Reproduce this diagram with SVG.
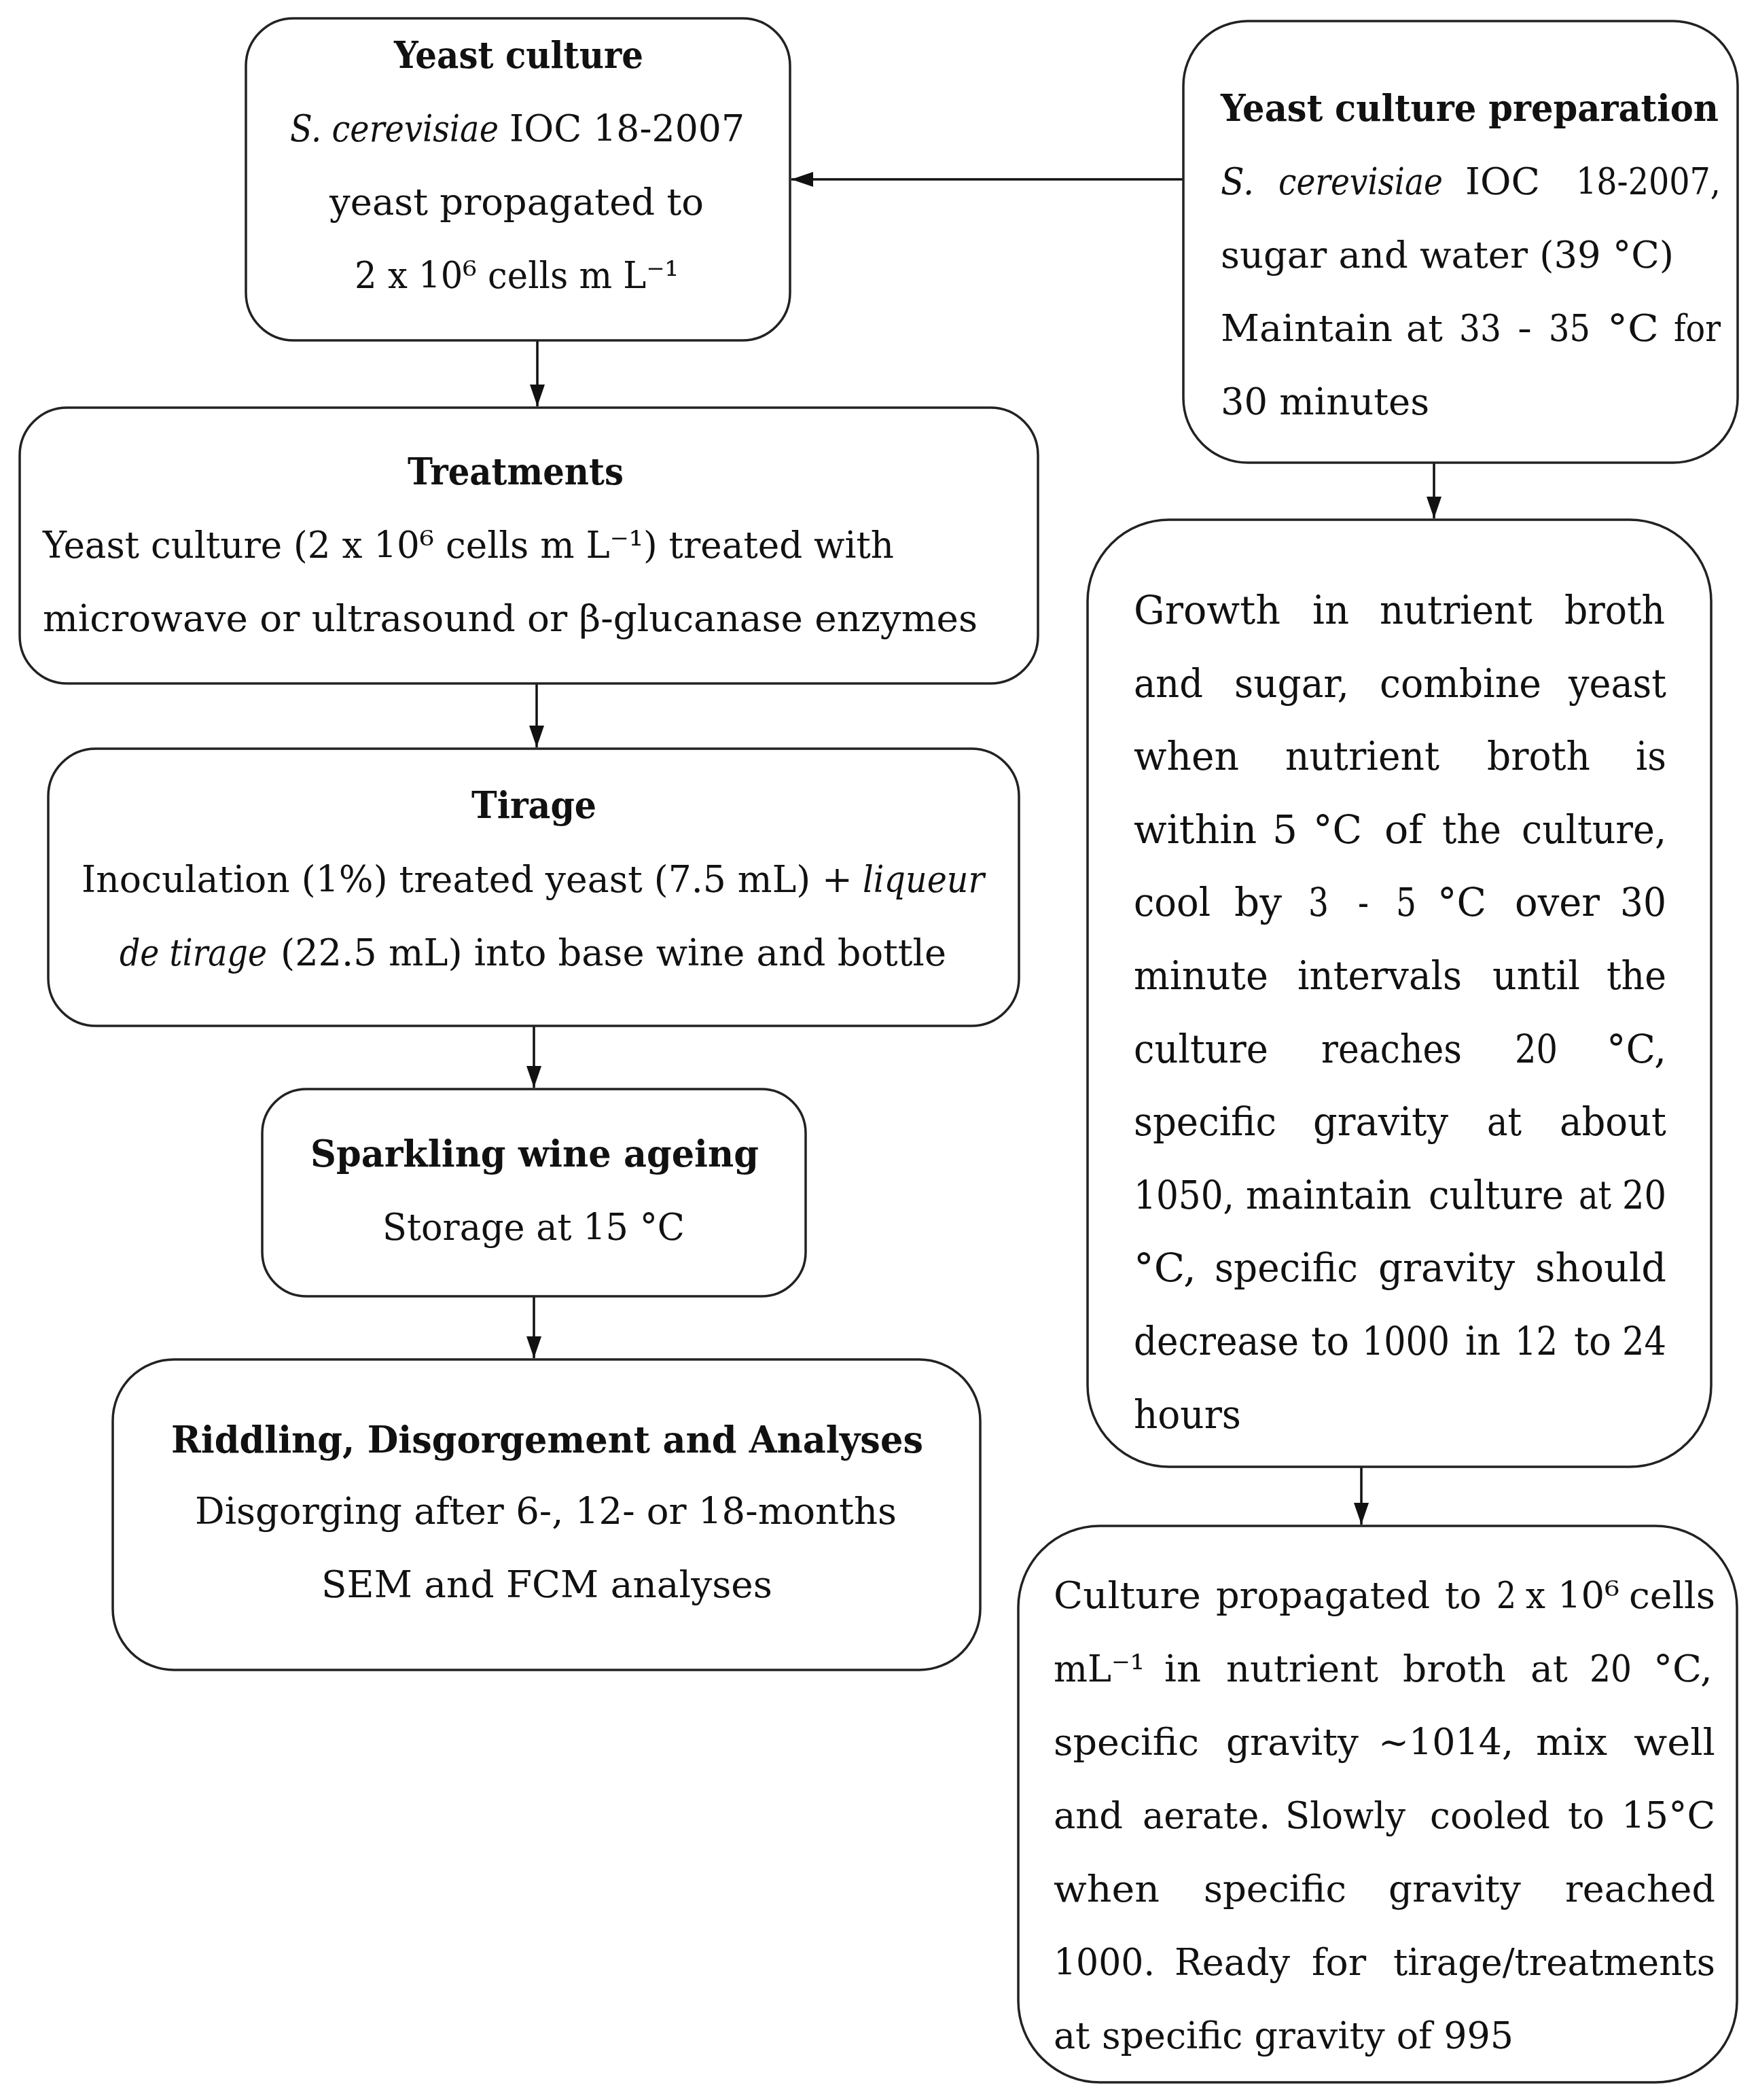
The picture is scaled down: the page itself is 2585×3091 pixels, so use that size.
<svg xmlns="http://www.w3.org/2000/svg" width="2585" height="3091" viewBox="0 0 2585 3091">
<style>
  .box { fill: #ffffff; stroke: #222222; stroke-width: 3.5; }
  .t { font-family: "DejaVu Serif", "Liberation Serif", serif; font-size: 55px; fill: #111111; }
  .g { font-size: 57px; }
  .b { font-weight: bold; }
  .i { font-style: italic; }
  .conn { stroke: #111111; stroke-width: 3.5; fill: none; marker-end: url(#ah); }
</style>
<defs>
  <marker id="ah" markerUnits="userSpaceOnUse" markerWidth="34" markerHeight="22" refX="32" refY="11" orient="auto">
    <path d="M0,0 L32,11 L0,22 z" fill="#111111"/>
  </marker>
</defs>
<rect x="0" y="0" width="2585" height="3091" fill="#ffffff"/>

<g id="connectors">
  <line class="conn" x1="1742" y1="264" x2="1165" y2="264"/>
  <line class="conn" x1="791" y1="501" x2="791" y2="598"/>
  <line class="conn" x1="790" y1="1006" x2="790" y2="1100"/>
  <line class="conn" x1="786" y1="1510" x2="786" y2="1601"/>
  <line class="conn" x1="786" y1="1908" x2="786" y2="1999"/>
  <line class="conn" x1="2111" y1="681" x2="2111" y2="763"/>
  <line class="conn" x1="2004" y1="2159" x2="2004" y2="2244"/>
</g>

<g id="node-yeast-culture">
  <rect class="box" x="362" y="27" width="801" height="474" rx="70" ry="70"/>
  <text class="t b" x="580" y="100" textLength="367" lengthAdjust="spacingAndGlyphs">Yeast culture</text>
  <text class="t i" x="427" y="208" textLength="307" lengthAdjust="spacingAndGlyphs">S. cerevisiae</text>
  <text class="t" x="750" y="208" textLength="346" lengthAdjust="spacingAndGlyphs">IOC 18-2007</text>
  <text class="t" x="485" y="316" textLength="551" lengthAdjust="spacingAndGlyphs">yeast propagated to</text>
  <text class="t" x="522" y="424" textLength="477" lengthAdjust="spacingAndGlyphs">2 x 10⁶ cells m L⁻¹</text>
</g>

<g id="node-treatments">
  <rect class="box" x="29" y="600" width="1499" height="406" rx="70" ry="70"/>
  <text class="t b" x="600" y="713" textLength="318" lengthAdjust="spacingAndGlyphs">Treatments</text>
  <text class="t" x="63" y="821" textLength="1253" lengthAdjust="spacingAndGlyphs">Yeast culture (2 x 10⁶ cells m L⁻¹) treated with</text>
  <text class="t" x="63" y="929" textLength="1376" lengthAdjust="spacingAndGlyphs">microwave or ultrasound or β-glucanase enzymes</text>
</g>

<g id="node-tirage">
  <rect class="box" x="71" y="1102" width="1429" height="408" rx="70" ry="70"/>
  <text class="t b" x="694" y="1204" textLength="184" lengthAdjust="spacingAndGlyphs">Tirage</text>
  <text class="t" x="120" y="1313" textLength="1135" lengthAdjust="spacingAndGlyphs">Inoculation (1%) treated yeast (7.5 mL) +</text>
  <text class="t i" x="1270" y="1313" textLength="179" lengthAdjust="spacingAndGlyphs">liqueur</text>
  <text class="t i" x="176" y="1421" textLength="217" lengthAdjust="spacingAndGlyphs">de tirage</text>
  <text class="t" x="413" y="1421" textLength="980" lengthAdjust="spacingAndGlyphs">(22.5 mL) into base wine and bottle</text>
</g>

<g id="node-ageing">
  <rect class="box" x="386" y="1603" width="800" height="305" rx="65" ry="65"/>
  <text class="t b" x="457" y="1717" textLength="660" lengthAdjust="spacingAndGlyphs">Sparkling wine ageing</text>
  <text class="t" x="563" y="1825" textLength="445" lengthAdjust="spacingAndGlyphs">Storage at 15 °C</text>
</g>

<g id="node-riddling">
  <rect class="box" x="166" y="2001" width="1277" height="457" rx="90" ry="90"/>
  <text class="t b" x="252" y="2138" textLength="1107" lengthAdjust="spacingAndGlyphs">Riddling, Disgorgement and Analyses</text>
  <text class="t" x="287" y="2243" textLength="1033" lengthAdjust="spacingAndGlyphs">Disgorging after 6-, 12- or 18-months</text>
  <text class="t" x="473" y="2351" textLength="664" lengthAdjust="spacingAndGlyphs">SEM and FCM analyses</text>
</g>

<g id="node-preparation">
  <rect class="box" x="1742" y="31" width="816" height="650" rx="95" ry="95"/>
  <text class="t b" x="1797" y="178" textLength="733" lengthAdjust="spacingAndGlyphs">Yeast culture preparation</text>
  <text class="t i" x="1797" y="286" textLength="49" lengthAdjust="spacingAndGlyphs">S.</text>
  <text class="t i" x="1882" y="286" textLength="242" lengthAdjust="spacingAndGlyphs">cerevisiae</text>
  <text class="t" x="2157" y="286" textLength="110" lengthAdjust="spacingAndGlyphs">IOC</text>
  <text class="t" x="2320" y="286" textLength="213" lengthAdjust="spacingAndGlyphs">18-2007,</text>
  <text class="t" x="1797" y="394" textLength="667" lengthAdjust="spacingAndGlyphs">sugar and water (39 °C)</text>
  <text class="t" x="1797" y="502" textLength="253" lengthAdjust="spacingAndGlyphs">Maintain</text>
  <text class="t" x="2070" y="502" textLength="54" lengthAdjust="spacingAndGlyphs">at</text>
  <text class="t" x="2148" y="502" textLength="62" lengthAdjust="spacingAndGlyphs">33</text>
  <text class="t" x="2234" y="502" textLength="21" lengthAdjust="spacingAndGlyphs">-</text>
  <text class="t" x="2280" y="502" textLength="61" lengthAdjust="spacingAndGlyphs">35</text>
  <text class="t" x="2366" y="502" textLength="76" lengthAdjust="spacingAndGlyphs">°C</text>
  <text class="t" x="2464" y="502" textLength="69" lengthAdjust="spacingAndGlyphs">for</text>
  <text class="t" x="1797" y="610" textLength="307" lengthAdjust="spacingAndGlyphs">30 minutes</text>
</g>

<g id="node-growth">
  <rect class="box" x="1601" y="765" width="918" height="1394" rx="120" ry="120"/>
  <text class="t g" x="1669" y="918" textLength="216" lengthAdjust="spacingAndGlyphs">Growth</text>
  <text class="t g" x="1932" y="918" textLength="54" lengthAdjust="spacingAndGlyphs">in</text>
  <text class="t g" x="2031" y="918" textLength="225" lengthAdjust="spacingAndGlyphs">nutrient</text>
  <text class="t g" x="2303" y="918" textLength="148" lengthAdjust="spacingAndGlyphs">broth</text>

  <text class="t g" x="1669" y="1026" textLength="102" lengthAdjust="spacingAndGlyphs">and</text>
  <text class="t g" x="1817" y="1026" textLength="169" lengthAdjust="spacingAndGlyphs">sugar,</text>
  <text class="t g" x="2031" y="1026" textLength="238" lengthAdjust="spacingAndGlyphs">combine</text>
  <text class="t g" x="2309" y="1026" textLength="144" lengthAdjust="spacingAndGlyphs">yeast</text>

  <text class="t g" x="1669" y="1133" textLength="155" lengthAdjust="spacingAndGlyphs">when</text>
  <text class="t g" x="1892" y="1133" textLength="227" lengthAdjust="spacingAndGlyphs">nutrient</text>
  <text class="t g" x="2189" y="1133" textLength="152" lengthAdjust="spacingAndGlyphs">broth</text>
  <text class="t g" x="2408" y="1133" textLength="45" lengthAdjust="spacingAndGlyphs">is</text>

  <text class="t g" x="1669" y="1241" textLength="181" lengthAdjust="spacingAndGlyphs">within</text>
  <text class="t g" x="1873" y="1241" textLength="37" lengthAdjust="spacingAndGlyphs">5</text>
  <text class="t g" x="1933" y="1241" textLength="72" lengthAdjust="spacingAndGlyphs">°C</text>
  <text class="t g" x="2038" y="1241" textLength="57" lengthAdjust="spacingAndGlyphs">of</text>
  <text class="t g" x="2123" y="1241" textLength="87" lengthAdjust="spacingAndGlyphs">the</text>
  <text class="t g" x="2240" y="1241" textLength="213" lengthAdjust="spacingAndGlyphs">culture,</text>

  <text class="t g" x="1669" y="1348" textLength="113" lengthAdjust="spacingAndGlyphs">cool</text>
  <text class="t g" x="1817" y="1348" textLength="70" lengthAdjust="spacingAndGlyphs">by</text>
  <text class="t g" x="1926" y="1348" textLength="30" lengthAdjust="spacingAndGlyphs">3</text>
  <text class="t g" x="1999" y="1348" textLength="16" lengthAdjust="spacingAndGlyphs">-</text>
  <text class="t g" x="2055" y="1348" textLength="30" lengthAdjust="spacingAndGlyphs">5</text>
  <text class="t g" x="2116" y="1348" textLength="72" lengthAdjust="spacingAndGlyphs">°C</text>
  <text class="t g" x="2230" y="1348" textLength="125" lengthAdjust="spacingAndGlyphs">over</text>
  <text class="t g" x="2385" y="1348" textLength="68" lengthAdjust="spacingAndGlyphs">30</text>

  <text class="t g" x="1669" y="1456" textLength="198" lengthAdjust="spacingAndGlyphs">minute</text>
  <text class="t g" x="1910" y="1456" textLength="242" lengthAdjust="spacingAndGlyphs">intervals</text>
  <text class="t g" x="2197" y="1456" textLength="129" lengthAdjust="spacingAndGlyphs">until</text>
  <text class="t g" x="2365" y="1456" textLength="88" lengthAdjust="spacingAndGlyphs">the</text>

  <text class="t g" x="1669" y="1564" textLength="198" lengthAdjust="spacingAndGlyphs">culture</text>
  <text class="t g" x="1945" y="1564" textLength="207" lengthAdjust="spacingAndGlyphs">reaches</text>
  <text class="t g" x="2230" y="1564" textLength="63" lengthAdjust="spacingAndGlyphs">20</text>
  <text class="t g" x="2365" y="1564" textLength="88" lengthAdjust="spacingAndGlyphs">°C,</text>

  <text class="t g" x="1669" y="1671" textLength="210" lengthAdjust="spacingAndGlyphs">specific</text>
  <text class="t g" x="1933" y="1671" textLength="199" lengthAdjust="spacingAndGlyphs">gravity</text>
  <text class="t g" x="2189" y="1671" textLength="51" lengthAdjust="spacingAndGlyphs">at</text>
  <text class="t g" x="2296" y="1671" textLength="157" lengthAdjust="spacingAndGlyphs">about</text>

  <text class="t g" x="1669" y="1779" textLength="148" lengthAdjust="spacingAndGlyphs">1050,</text>
  <text class="t g" x="1834" y="1779" textLength="244" lengthAdjust="spacingAndGlyphs">maintain</text>
  <text class="t g" x="2103" y="1779" textLength="199" lengthAdjust="spacingAndGlyphs">culture</text>
  <text class="t g" x="2324" y="1779" textLength="48" lengthAdjust="spacingAndGlyphs">at</text>
  <text class="t g" x="2388" y="1779" textLength="65" lengthAdjust="spacingAndGlyphs">20</text>

  <text class="t g" x="1669" y="1886" textLength="92" lengthAdjust="spacingAndGlyphs">°C,</text>
  <text class="t g" x="1788" y="1886" textLength="211" lengthAdjust="spacingAndGlyphs">specific</text>
  <text class="t g" x="2029" y="1886" textLength="201" lengthAdjust="spacingAndGlyphs">gravity</text>
  <text class="t g" x="2260" y="1886" textLength="193" lengthAdjust="spacingAndGlyphs">should</text>

  <text class="t g" x="1669" y="1994" textLength="243" lengthAdjust="spacingAndGlyphs">decrease</text>
  <text class="t g" x="1930" y="1994" textLength="56" lengthAdjust="spacingAndGlyphs">to</text>
  <text class="t g" x="2005" y="1994" textLength="129" lengthAdjust="spacingAndGlyphs">1000</text>
  <text class="t g" x="2157" y="1994" textLength="52" lengthAdjust="spacingAndGlyphs">in</text>
  <text class="t g" x="2230" y="1994" textLength="63" lengthAdjust="spacingAndGlyphs">12</text>
  <text class="t g" x="2317" y="1994" textLength="55" lengthAdjust="spacingAndGlyphs">to</text>
  <text class="t g" x="2388" y="1994" textLength="65" lengthAdjust="spacingAndGlyphs">24</text>

  <text class="t g" x="1669" y="2102" textLength="158" lengthAdjust="spacingAndGlyphs">hours</text>
</g>

<g id="node-propagated">
  <rect class="box" x="1499" y="2246" width="1058" height="819" rx="120" ry="120"/>
  <text class="t" x="1551" y="2367" textLength="217" lengthAdjust="spacingAndGlyphs">Culture</text>
  <text class="t" x="1790" y="2367" textLength="315" lengthAdjust="spacingAndGlyphs">propagated</text>
  <text class="t" x="2127" y="2367" textLength="54" lengthAdjust="spacingAndGlyphs">to</text>
  <text class="t" x="2203" y="2367" textLength="29" lengthAdjust="spacingAndGlyphs">2</text>
  <text class="t" x="2246" y="2367" textLength="29" lengthAdjust="spacingAndGlyphs">x</text>
  <text class="t" x="2293" y="2367" textLength="91" lengthAdjust="spacingAndGlyphs">10⁶</text>
  <text class="t" x="2398" y="2367" textLength="127" lengthAdjust="spacingAndGlyphs">cells</text>

  <text class="t" x="1551" y="2475" textLength="134" lengthAdjust="spacingAndGlyphs">mL⁻¹</text>
  <text class="t" x="1714" y="2475" textLength="54" lengthAdjust="spacingAndGlyphs">in</text>
  <text class="t" x="1805" y="2475" textLength="224" lengthAdjust="spacingAndGlyphs">nutrient</text>
  <text class="t" x="2065" y="2475" textLength="152" lengthAdjust="spacingAndGlyphs">broth</text>
  <text class="t" x="2253" y="2475" textLength="55" lengthAdjust="spacingAndGlyphs">at</text>
  <text class="t" x="2340" y="2475" textLength="62" lengthAdjust="spacingAndGlyphs">20</text>
  <text class="t" x="2434" y="2475" textLength="87" lengthAdjust="spacingAndGlyphs">°C,</text>

  <text class="t" x="1551" y="2583" textLength="214" lengthAdjust="spacingAndGlyphs">specific</text>
  <text class="t" x="1805" y="2583" textLength="195" lengthAdjust="spacingAndGlyphs">gravity</text>
  <text class="t" x="2029" y="2583" textLength="199" lengthAdjust="spacingAndGlyphs">~1014,</text>
  <text class="t" x="2261" y="2583" textLength="105" lengthAdjust="spacingAndGlyphs">mix</text>
  <text class="t" x="2405" y="2583" textLength="120" lengthAdjust="spacingAndGlyphs">well</text>

  <text class="t" x="1551" y="2691" textLength="102" lengthAdjust="spacingAndGlyphs">and</text>
  <text class="t" x="1682" y="2691" textLength="188" lengthAdjust="spacingAndGlyphs">aerate.</text>
  <text class="t" x="1892" y="2691" textLength="177" lengthAdjust="spacingAndGlyphs">Slowly</text>
  <text class="t" x="2105" y="2691" textLength="177" lengthAdjust="spacingAndGlyphs">cooled</text>
  <text class="t" x="2308" y="2691" textLength="54" lengthAdjust="spacingAndGlyphs">to</text>
  <text class="t" x="2387" y="2691" textLength="138" lengthAdjust="spacingAndGlyphs">15°C</text>

  <text class="t" x="1551" y="2799" textLength="156" lengthAdjust="spacingAndGlyphs">when</text>
  <text class="t" x="1772" y="2799" textLength="210" lengthAdjust="spacingAndGlyphs">specific</text>
  <text class="t" x="2044" y="2799" textLength="195" lengthAdjust="spacingAndGlyphs">gravity</text>
  <text class="t" x="2304" y="2799" textLength="221" lengthAdjust="spacingAndGlyphs">reached</text>

  <text class="t" x="1551" y="2907" textLength="149" lengthAdjust="spacingAndGlyphs">1000.</text>
  <text class="t" x="1729" y="2907" textLength="170" lengthAdjust="spacingAndGlyphs">Ready</text>
  <text class="t" x="1931" y="2907" textLength="80" lengthAdjust="spacingAndGlyphs">for</text>
  <text class="t" x="2051" y="2907" textLength="474" lengthAdjust="spacingAndGlyphs">tirage/treatments</text>

  <text class="t" x="1551" y="3015" textLength="677" lengthAdjust="spacingAndGlyphs">at specific gravity of 995</text>
</g>
</svg>
